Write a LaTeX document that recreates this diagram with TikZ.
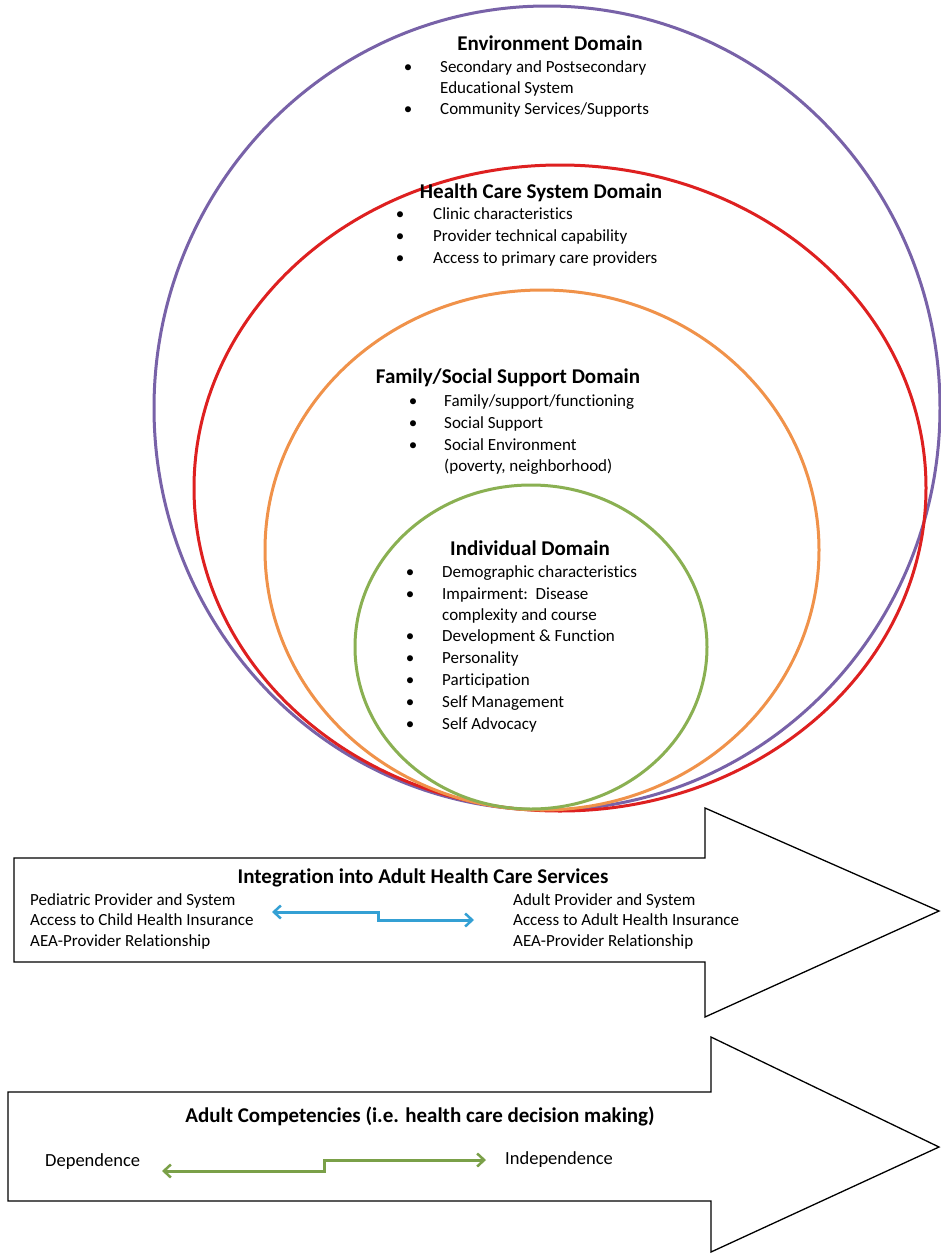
\documentclass[tikz,border=0pt]{standalone}
\usepackage{fontspec}
\setmainfont[Ligatures=NoCommon]{Carlito}
\usetikzlibrary{arrows.meta}
\definecolor{cpurple}{RGB}{120,98,168}
\definecolor{cred}{RGB}{222,32,32}
\definecolor{corange}{RGB}{240,146,74}
\definecolor{cgreen}{RGB}{138,176,82}
\definecolor{cblue}{RGB}{52,160,212}
\definecolor{cgarrow}{RGB}{122,160,72}
\begin{document}
\begin{tikzpicture}[x=1pt,y=-1pt,
  ring/.style={line width=3pt},
  bigarrow/.style={draw=black,line width=1.3pt,fill=white,line join=miter},
  title/.style={font=\fontsize{21}{24}\selectfont\bfseries,inner sep=0pt,anchor=center},
  txt/.style={font=\fontsize{17}{20}\selectfont,inner sep=0pt,anchor=west,text height=12pt,text depth=3.5pt},
  bigtxt/.style={txt,font=\fontsize{18.5}{21}\selectfont},
  bul/.style={font=\fontsize{17}{20}\selectfont,inner sep=0pt,anchor=center,text height=12pt,text depth=3.5pt},
  flow/.style={line width=3pt,{Straight Barb[length=7pt,width=13pt,line width=2.5pt]}-{Straight Barb[length=7pt,width=13pt,line width=2.5pt]},line join=miter}
]
\useasboundingbox (0,0) rectangle (941,1256);
\fill[white] (0,0) rectangle (941,1256);

% nested domains
\draw[ring,cpurple] (547,408) ellipse [x radius=393pt, y radius=402pt];
\draw[ring,cred] (560,488) ellipse [x radius=366pt, y radius=323pt];
\draw[ring,corange] (542,550) ellipse [x radius=277pt, y radius=260pt];
\draw[ring,cgreen] (531,647) ellipse [x radius=176pt, y radius=162pt];

% Environment Domain
\node[title] (envt) at (550,43) {Environment Domain};
\node[bul] (envb1) at (408,68) {\textbullet};
\node[txt] (env1) at (440,68) {Secondary and Postsecondary};
\node[txt] (env1b) at (440,89) {Educational System};
\node[bul] (envb2) at (408,110) {\textbullet};
\node[txt] (env2) at (440,110) {Community Services/Supports};

% Health Care System Domain
\node[title] (hcst) at (541,193) {Health Care System Domain};
\node[bul] (hcsb1) at (400,215) {\textbullet};
\node[txt] (hcs1) at (433,215) {Clinic characteristics};
\node[bul] (hcsb2) at (400,237) {\textbullet};
\node[txt] (hcs2) at (433,237) {Provider technical capability};
\node[bul] (hcsb3) at (400,259) {\textbullet};
\node[txt] (hcs3) at (433,259) {Access to primary care providers};

% Family/Social Support Domain
\node[title] (famt) at (508,378) {Family/Social Support Domain};
\node[bul] (famb1) at (413,402) {\textbullet};
\node[txt] (fam1) at (444,402) {Family/support/functioning};
\node[bul] (famb2) at (413,424) {\textbullet};
\node[txt] (fam2) at (444,424) {Social Support};
\node[bul] (famb3) at (413,446) {\textbullet};
\node[txt] (fam3) at (444,446) {Social Environment};
\node[txt] (fam3b) at (444,467) {(poverty, neighborhood)};

% Individual Domain
\node[title] (indt) at (530,548) {Individual Domain};
\node[bul] (indb1) at (410,573) {\textbullet};
\node[txt] (ind1) at (442,573) {Demographic characteristics};
\node[bul] (indb2) at (410,595) {\textbullet};
\node[txt] (ind2) at (442,595) {Impairment:\ \ Disease};
\node[txt] (ind2b) at (442,616) {complexity and course};
\node[bul] (indb3) at (410,637) {\textbullet};
\node[txt] (ind3) at (442,637) {Development \& Function};
\node[bul] (indb4) at (410,659) {\textbullet};
\node[txt] (ind4) at (442,659) {Personality};
\node[bul] (indb5) at (410,681) {\textbullet};
\node[txt] (ind5) at (442,681) {Participation};
\node[bul] (indb6) at (410,703) {\textbullet};
\node[txt] (ind6) at (442,703) {Self Management};
\node[bul] (indb7) at (410,725) {\textbullet};
\node[txt] (ind7) at (442,725) {Self Advocacy};

% Arrow 1
\draw[bigarrow] (14,858) -- (705,858) -- (705,808) -- (939,911) -- (705,1017) -- (705,962) -- (14,962) -- cycle;
\node[title] (intt) at (423,878) {Integration into Adult Health Care Services};
\node[txt] (ped1) at (30,901) {Pediatric Provider and System};
\node[txt] (ped2) at (30,921) {Access to Child Health Insurance};
\node[txt] (ped3) at (30,942) {AEA-Provider Relationship};
\node[txt] (adu1) at (513,901) {Adult Provider and System};
\node[txt] (adu2) at (513,921) {Access to Adult Health Insurance};
\node[txt] (adu3) at (513,942) {AEA-Provider Relationship};
\coordinate (bl) at (272,912);
\coordinate (br) at (474,920);
\draw[flow,cblue] (bl) -- (378,912) -- (378,920) -- (br);

% Arrow 2
\draw[bigarrow] (8,1092) -- (711,1092) -- (711,1037) -- (939,1147) -- (711,1252) -- (711,1201) -- (8,1201) -- cycle;
\node[title] (compt) at (420,1116) {Adult Competencies (i.e. health care decision making)};
\node[bigtxt] (dep) at (45,1162) {Dependence};
\node[bigtxt] (indep) at (505,1160) {Independence};
\coordinate (gl) at (162,1171);
\coordinate (gr) at (486,1160);
\draw[flow,cgarrow] (gl) -- (324,1171) -- (324,1160) -- (gr);
\end{tikzpicture}
\end{document}
